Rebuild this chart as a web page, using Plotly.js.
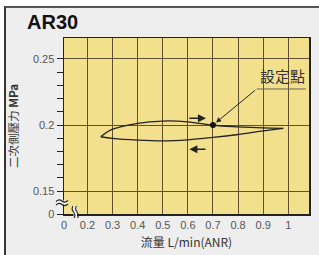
<!DOCTYPE html>
<html>
<head>
<meta charset="utf-8">
<script src="https://cdn.plot.ly/plotly-3.0.1.min.js"></script>
<style>
html,body{margin:0;padding:0;background:#ffffff;}
#frame{position:absolute;left:4px;top:6px;width:315px;height:260px;background:#eeeeee;border-top:2px solid #555;border-left:2px solid #333;box-sizing:border-box;}
#chart{position:absolute;left:0;top:0;width:319px;height:255px;}
</style>
</head>
<body>
<div id="frame"></div>
<div id="chart"></div>
<script>
// Data (flow L/min(ANR), secondary pressure MPa)
const upperFlow = [0.253, 0.3, 0.4, 0.5, 0.6, 0.7, 0.8, 0.9, 0.98];
const upperPressure = [0.1911, 0.1968, 0.2013, 0.2030, 0.2024, 0.1998, 0.1986, 0.1978, 0.1975];
const lowerFlow = [0.98, 0.9, 0.8, 0.7, 0.6, 0.5, 0.4, 0.3, 0.253];
const lowerPressure = [0.1975, 0.1955, 0.1928, 0.1906, 0.1888, 0.1880, 0.1886, 0.1899, 0.1911];
const setFlow = [0.7];
const setPressure = [0.2];

// Axis (broken axes: "0" shown at the start of each axis)
const xRange = [0.1064, 1.0825];
const yRange = [0.13258, 0.2659];
const xTickVals = [0.1064, 0.2, 0.3, 0.4, 0.5, 0.6, 0.7, 0.8, 0.9, 1.0];
const xTickText = ['0', '0.2', '0.3', '0.4', '0.5', '0.6', '0.7', '0.8', '0.9', '1'];
const yTickVals = [0.13258, 0.15, 0.2, 0.25];
const yTickText = ['0', '0.15', '0.2', '0.25'];
const yMinorVals = [0.16, 0.17, 0.18, 0.19, 0.21, 0.22, 0.23, 0.24];

// Labels
const chartTitle = 'AR30';
const xTitle = '流量 L/min(ANR)';
const yTitle = '二次側壓力 <b>MPa</b>';
const setLabel = '設定點';

const W = 319, H = 255, L = 64, R = 10, T = 38, B = 41;
const pw = W - L - R, ph = H - T - B;
function px(x){ return (x - L) / pw; }
function py(y){ return (H - B - y) / ph; }
function pathPx(pts){ // pts: array of [cmd, x, y,...] in pixels -> paper path
  return pts.map(p => p[0] + ' ' + p.slice(1).map((v,i)=> i%2===0 ? px(v).toFixed(5) : py(v).toFixed(5)).reduce((a,v,i)=> a + (i%2===0 ? (i? ' ':'') + v : ',' + v), '')).join(' ');
}

const ink = '#222222';
const traces = [
  {x: upperFlow, y: upperPressure, mode: 'lines', line: {color: ink, width: 1.3, shape: 'spline'}, hoverinfo: 'skip'},
  {x: lowerFlow, y: lowerPressure, mode: 'lines', line: {color: ink, width: 1.3, shape: 'spline'}, hoverinfo: 'skip'},
  {x: setFlow, y: setPressure, mode: 'markers', marker: {color: '#111', size: 6}, hoverinfo: 'skip'}
];

const tickFont = {family: 'Liberation Sans, Arial, sans-serif', size: 11, color: '#555'};
const cjk = 'Noto Sans CJK TC, Noto Sans CJK SC, sans-serif';

// annotation positions for the label (data units)
const lblX = 0.2 + (256.7 - 87.5) / 251, lblY = 0.2 + (125 - 89) / 1320;
const lblEnd = 0.2 + (306 - 87.5) / 251;

const layout = {
  width: W, height: H,
  margin: {l: L, r: R, t: T, b: B},
  paper_bgcolor: 'rgba(0,0,0,0)',
  plot_bgcolor: '#f3e08c',
  showlegend: false,
  title: {text: '<b>' + chartTitle + '</b>', x: 27 / W, xanchor: 'left', xref: 'container', y: 1 - 22 / H, yanchor: 'middle', yref: 'container',
          font: {family: 'Liberation Sans, Arial, sans-serif', size: 20, color: '#111'}},
  xaxis: {
    range: xRange, tickmode: 'array', tickvals: xTickVals, ticktext: xTickText,
    showgrid: true, gridcolor: '#5e5030', gridwidth: 1, zeroline: false,
    showline: true, linecolor: ink, linewidth: 1.5, mirror: true,
    ticks: '', tickfont: tickFont, fixedrange: true,
    title: {text: xTitle, font: {family: cjk, size: 12, color: '#333'}, standoff: 9}
  },
  yaxis: {
    range: yRange, tickmode: 'array', tickvals: yTickVals, ticktext: yTickText,
    showgrid: true, gridcolor: '#5e5030', gridwidth: 1, zeroline: false,
    showline: true, linecolor: ink, linewidth: 1.5, mirror: true,
    ticks: 'outside', ticklen: 6, tickcolor: ink, tickwidth: 1, tickfont: tickFont, fixedrange: true,
    minor: {tickmode: 'array', tickvals: yMinorVals, ticks: 'outside', ticklen: 6, tickcolor: ink, tickwidth: 1, showgrid: false},
    title: {text: yTitle, font: {family: cjk, size: 11.5, color: '#333'}, standoff: 12}
  },
  annotations: [
    {x: 0.672, y: 0.2051, ax: 0.6, ay: 0.2051, xref: 'x', yref: 'y', axref: 'x', ayref: 'y', text: '', showarrow: true, arrowhead: 2, arrowsize: 1, arrowwidth: 1.6, arrowcolor: ink},
    {x: 0.606, y: 0.1816, ax: 0.676, ay: 0.1816, xref: 'x', yref: 'y', axref: 'x', ayref: 'y', text: '', showarrow: true, arrowhead: 2, arrowsize: 1, arrowwidth: 1.6, arrowcolor: ink},
    {x: setFlow[0], y: setPressure[0], ax: lblX, ay: lblY, xref: 'x', yref: 'y', axref: 'x', ayref: 'y', text: '', showarrow: true, arrowhead: 2, arrowsize: 1, arrowwidth: 1, arrowcolor: ink, standoff: 4},
    {x: (lblX + lblEnd) / 2 + 0.005, y: lblY, xref: 'x', yref: 'y', yanchor: 'bottom', yshift: 1, text: setLabel, showarrow: false,
     font: {family: cjk, size: 15, color: '#333'}}
  ],
  shapes: [
    {type: 'line', xref: 'x', yref: 'y', x0: lblX, x1: lblEnd, y0: lblY, y1: lblY, line: {color: '#666', width: 1}},
    // y-axis break mark
    {type: 'rect', xref: 'paper', yref: 'paper', x0: px(56), x1: px(68), y0: py(204.5), y1: py(200.5), fillcolor: '#eeeeee', line: {width: 0}, layer: 'above'},
    {type: 'path', xref: 'paper', yref: 'paper', layer: 'above', line: {color: ink, width: 1.1},
     path: pathPx([['M', 56, 201.5], ['Q', 59, 198.5, 62, 201], ['Q', 65, 203.5, 68, 200.5]])},
    {type: 'path', xref: 'paper', yref: 'paper', layer: 'above', line: {color: ink, width: 1.1},
     path: pathPx([['M', 56, 205], ['Q', 59, 202, 62, 204.5], ['Q', 65, 207, 68, 204]])},
    // x-axis break mark
    {type: 'rect', xref: 'paper', yref: 'paper', x0: px(73.5), x1: px(77), y0: py(218), y1: py(206), fillcolor: '#eeeeee', line: {width: 0}, layer: 'above'},
    {type: 'path', xref: 'paper', yref: 'paper', layer: 'above', line: {color: ink, width: 1.1},
     path: pathPx([['M', 73, 206], ['Q', 71, 209, 73.5, 212], ['Q', 76, 215, 74, 218]])},
    {type: 'path', xref: 'paper', yref: 'paper', layer: 'above', line: {color: ink, width: 1.1},
     path: pathPx([['M', 76.5, 206], ['Q', 74.5, 209, 77, 212], ['Q', 79.5, 215, 77.5, 218]])}
  ]
};

Plotly.newPlot('chart', traces, layout, {displayModeBar: false, staticPlot: true});
</script>
</body>
</html>
